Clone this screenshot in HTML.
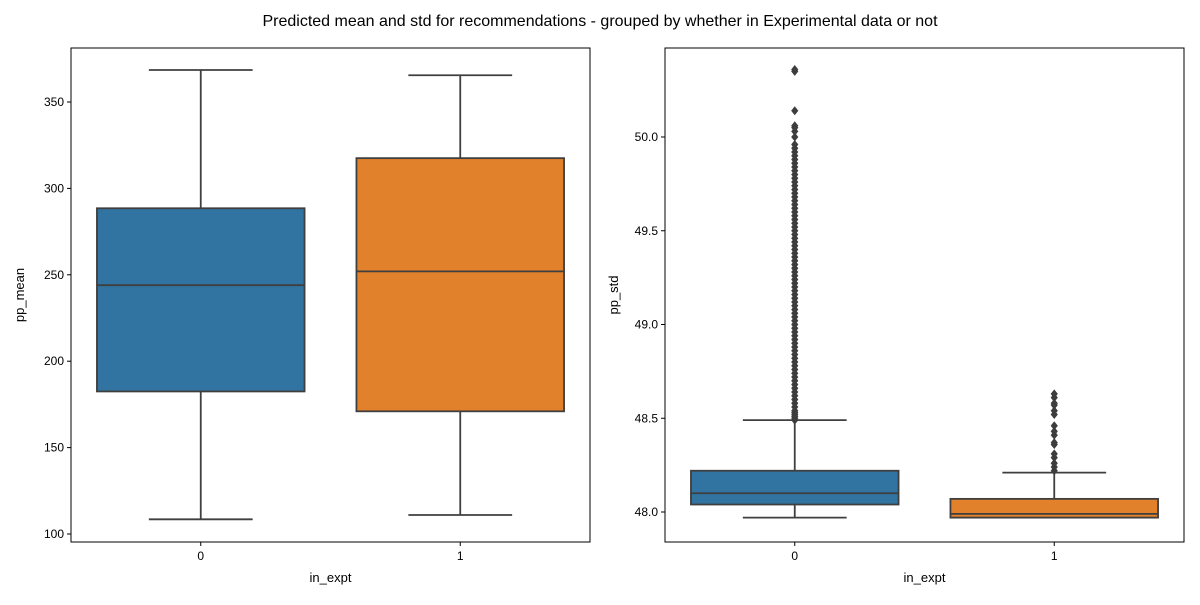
<!DOCTYPE html>
<html><head><meta charset="utf-8"><style>
body{margin:0;background:#fff;font-family:"Liberation Sans",sans-serif}
svg text{font-family:"Liberation Sans",sans-serif;fill:#000}
</style></head><body>
<svg id="c" width="1200" height="600">
<text x="600" y="26" font-size="16" text-anchor="middle">Predicted mean and std for recommendations - grouped by whether in Experimental data or not</text>
</svg>
<script>
const categories=["0","1"];
const meanStats=[[108.5,182.5,244,288.5,368.5],[111,171,252,317.5,365.5]];
const meanTicks=[100,150,200,250,300,350];
const stdStats=[[47.97,48.04,48.10,48.22,48.49],[47.97,47.97,47.99,48.07,48.21]];
const stdTicks=[48.0,48.5,49.0,49.5,50.0];
const stdOutliers0=[48.49,48.5,48.51,48.52,48.53,48.54,48.56,48.58,48.6,48.62,48.64,48.66,48.68,48.7,48.72,48.74,48.76,48.78,48.8,48.82,48.84,48.86,48.88,48.9,48.92,48.94,48.96,48.98,49.0,49.02,49.04,49.06,49.08,49.1,49.12,49.14,49.16,49.18,49.2,49.22,49.24,49.26,49.28,49.3,49.32,49.34,49.36,49.38,49.4,49.42,49.44,49.46,49.48,49.5,49.52,49.54,49.56,49.58,49.6,49.62,49.64,49.66,49.68,49.7,49.72,49.74,49.76,49.78,49.8,49.82,49.84,49.86,49.88,49.9,49.92,49.94,49.96,50.0,50.03,50.05,50.06,50.14,50.35,50.36];
const stdOutliers1=[48.22,48.24,48.26,48.29,48.31,48.36,48.37,48.41,48.43,48.46,48.52,48.54,48.57,48.58,48.61,48.63];
const colors=["#3274a1","#e1812c"];
const svg=document.getElementById('c');
const NS="http://www.w3.org/2000/svg";
function mk(t,a,p){const e=document.createElementNS(NS,t);for(const k in a)e.setAttribute(k,a[k]);(p||svg).appendChild(e);return e;}
function panel(x0,x1,y0,y1,vmin,vmax,stats,ticks,fmt,ylabel,outs,name){
  const g=mk('g',{});
  
  
  const ys=v=>y1-(v-vmin)/(vmax-vmin)*(y1-y0);
  const bw=(x1-x0)/categories.length;
  const xs=i=>x0+bw*(i+0.5);
  categories.forEach((c,i)=>{
    const s=stats[i],cx=xs(i),w=bw*0.8,lc="#3f3f3f";
    const bg=mk('g',{},g);
    
    
    mk('line',{x1:cx,x2:cx,y1:ys(s[0]),y2:ys(s[1]),stroke:lc,'stroke-width':1.8},bg);
    mk('line',{x1:cx,x2:cx,y1:ys(s[3]),y2:ys(s[4]),stroke:lc,'stroke-width':1.8},bg);
    mk('line',{x1:cx-w/4,x2:cx+w/4,y1:ys(s[0]),y2:ys(s[0]),stroke:lc,'stroke-width':1.8},bg);
    mk('line',{x1:cx-w/4,x2:cx+w/4,y1:ys(s[4]),y2:ys(s[4]),stroke:lc,'stroke-width':1.8},bg);
    mk('rect',{x:cx-w/2,y:ys(s[3]),width:w,height:ys(s[1])-ys(s[3]),fill:colors[i],stroke:lc,'stroke-width':1.8},bg);
    mk('line',{x1:cx-w/2,x2:cx+w/2,y1:ys(s[2]),y2:ys(s[2]),stroke:lc,'stroke-width':1.8},bg);
    if(outs&&outs[i])outs[i].forEach(v=>{
      const y=ys(v);
      const d=mk('path',{d:`M${cx},${y-4.5}L${cx+3.6},${y}L${cx},${y+4.5}L${cx-3.6},${y}Z`,fill:"#3d3d3d"},bg);
      
      
    });
    mk('line',{x1:cx,x2:cx,y1:y1,y2:y1+4,stroke:"#000"},g);
    const t=mk('text',{x:cx,y:y1+18,'font-size':12,'text-anchor':'middle'},g);t.textContent=c;
    
    
  });
  ticks.forEach(v=>{
    const y=ys(v);
    mk('line',{x1:x0-4,x2:x0,y1:y,y2:y,stroke:"#000"},g);
    const t=mk('text',{x:x0-7,y:y+4,'font-size':12,'text-anchor':'end'},g);t.textContent=fmt(v);
    
    
  });
  mk('rect',{x:x0,y:y0,width:x1-x0,height:y1-y0,fill:'none',stroke:'#000','stroke-width':1},g);
  const xl=mk('text',{x:(x0+x1)/2,y:y1+40,'font-size':13,'text-anchor':'middle'},g);xl.textContent='in_expt';
  
  
  const yl=mk('text',{x:0,y:0,'font-size':13,'text-anchor':'middle',transform:`translate(${x0-47},${(y0+y1)/2}) rotate(-90)`},g);yl.textContent=ylabel;
  
  
}
panel(71,590,48,542,100-8/1.728,100+486/1.728,meanStats,meanTicks,v=>String(v),'pp_mean',null,'mean-panel');
panel(665,1184,48,542,48-30/187.5,48+464/187.5,stdStats,stdTicks,v=>v.toFixed(1),'pp_std',[stdOutliers0,stdOutliers1],'std-panel');
</script>
</body></html>
